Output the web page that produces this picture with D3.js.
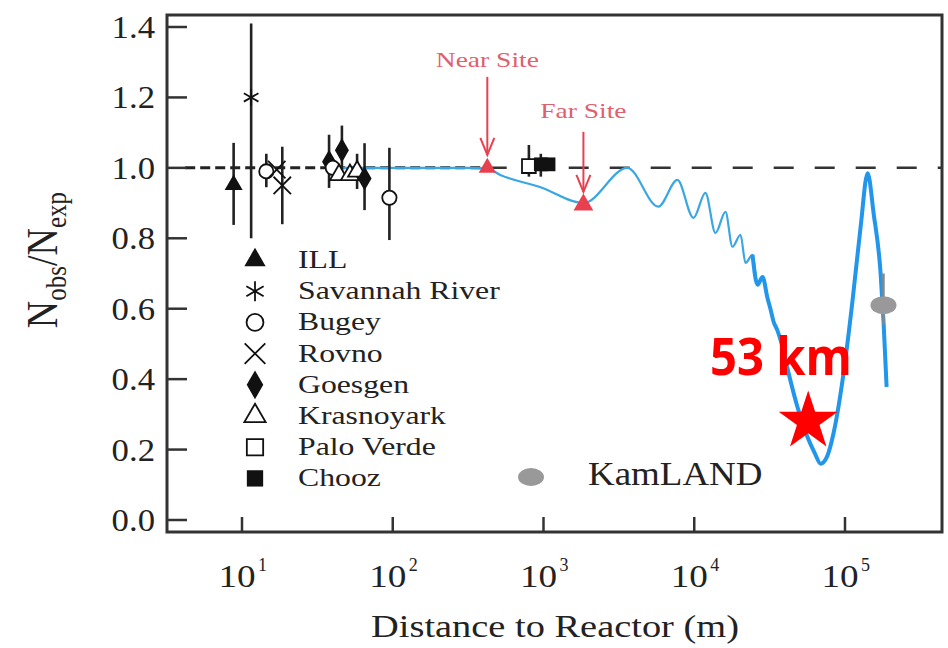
<!DOCTYPE html>
<html>
<head>
<meta charset="utf-8">
<script src="https://cdn.jsdelivr.net/npm/d3@7"></script>
<style>
  body { margin: 0; background: #fff; }
  svg { display: block; }
  text { font-family: "Liberation Serif", "Times New Roman", serif; }
</style>
</head>
<body>
<div id="wrapper"></div>
<script>
// 1. Data

const legendNames = ['ILL', 'Savannah River', 'Bugey', 'Rovno', 'Goesgen', 'Krasnoyark', 'Palo Verde', 'Chooz'];
const legendSymbols = ['triangle', 'asterisk', 'circle', 'cross', 'diamond', 'triangleOpen', 'square', 'squareFilled'];

// reactor experiments: distance (m), Nobs/Nexp, error bar low / high
const pointExp = ['ILL', 'Savannah River', 'Bugey', 'Rovno', 'Rovno', 'Goesgen', 'Bugey', 'Krasnoyark',
  'Goesgen', 'Krasnoyark', 'Krasnoyark', 'Goesgen', 'Bugey', 'Palo Verde', 'Chooz', 'Chooz'];
const pointDist = [8.8, 11.5, 14.5, 17, 18.5, 37.8, 40, 44, 46, 52, 58, 65, 95, 800, 960, 1080];
const pointRatio = [0.952, 1.2, 0.99, 0.995, 0.95, 1.017, 1.0, 0.98, 1.05, 0.98, 0.99, 0.97, 0.915, 1.005, 1.01, 1.01];
const pointLow = [0.838, 0.8, 0.945, 0.995, 0.84, 0.943, 0.99, 0.98, 0.975, 0.98, 0.94, 0.88, 0.795, 0.975, 0.975, 1.0];
const pointHigh = [1.071, 1.41, 1.04, 0.995, 1.06, 1.094, 1.01, 0.98, 1.12, 0.98, 1.04, 1.07, 1.057, 1.065, 1.04, 1.02];

// oscillation curve, traced point by point
const curveDist = [45, 327, 424, 517, 955, 1840, 3600, 5780, 7730, 9880, 11860, 13830, 16110, 17930,
  20270, 21880, 24340, 26300, 28380, 30620, 32000, 33590, 35500, 38550, 42200, 48420, 56460, 63000,
  68870, 76000, 84000, 97900, 112300, 126900, 141300, 154900, 172300, 180300, 188800];
const curveRatio = [1.0, 1.0, 0.998, 0.98, 0.945, 0.9, 1.0, 0.89, 0.966, 0.858, 0.929, 0.815, 0.875, 0.776,
  0.81, 0.73, 0.753, 0.668, 0.69, 0.63, 0.6, 0.563, 0.54, 0.49, 0.418, 0.32, 0.235, 0.19,
  0.16, 0.18, 0.247, 0.418, 0.625, 0.832, 0.985, 0.87, 0.7, 0.56, 0.378];

const siteNames = ['Near Site', 'Far Site'];
const siteDist = [424, 1840];
const siteRatio = [1.0, 0.895];

const kamlandDist = [180000];
const kamlandRatio = [0.61];
const kamlandLow = [0.555];
const kamlandHigh = [0.7];

const starDist = 57000;
const starRatio = 0.28;

const xTicks = [10, 100, 1000, 10000, 100000];
const xTickExp = ['1', '2', '3', '4', '5'];
const yTicks = [0, 0.2, 0.4, 0.6, 0.8, 1.0, 1.2, 1.4];

// 2. Dimensions

const dimensions = {
  width: 948,
  height: 648,
  margin: { top: 15, right: 6, bottom: 116, left: 167 },
};
dimensions.boundedWidth = dimensions.width - dimensions.margin.left - dimensions.margin.right;
dimensions.boundedHeight = dimensions.height - dimensions.margin.top - dimensions.margin.bottom;

// 3. Canvas

const wrapper = d3.select('#wrapper')
  .append('svg')
  .attr('width', dimensions.width)
  .attr('height', dimensions.height);

const bounds = wrapper.append('g')
  .attr('transform', `translate(${dimensions.margin.left},${dimensions.margin.top})`);

// 4. Scales

const xScale = d3.scaleLog().domain([10, 100000]).range([75, 678]);
const yScale = d3.scaleLinear().domain([0, 1.4]).range([505, 12]);

// text in the figure is stretched sideways
function stretch(sel, k) {
  sel.each(function () {
    const len = this.getComputedTextLength();
    d3.select(this).attr('textLength', len * k).attr('lengthAdjust', 'spacingAndGlyphs');
  });
}

function drawMarker(g, type, x, y, scale) {
  const s = scale || 1;
  const ink = '#111';
  let sym, fill = ink, stroke = 'none', size = 150 * s;
  if (type === 'triangle') { sym = d3.symbolTriangle; size = 140 * s; }
  if (type === 'triangleOpen') { sym = d3.symbolTriangle; size = 140 * s; fill = '#fff'; stroke = ink; }
  if (type === 'circle') { sym = d3.symbolCircle; size = 160 * s; fill = '#fff'; stroke = ink; }
  if (type === 'square') { sym = d3.symbolSquare; size = 190 * s; fill = '#fff'; stroke = ink; }
  if (type === 'squareFilled') { sym = d3.symbolSquare; size = 190 * s; }
  if (type === 'diamond') { sym = d3.symbolDiamond; size = 170 * s; }
  if (type === 'cross') { sym = d3.symbolTimes; size = 200 * s; fill = 'none'; stroke = ink; }
  if (type === 'asterisk') { sym = d3.symbolAsterisk; size = 200 * s; fill = 'none'; stroke = ink; }
  g.append('path')
    .attr('d', d3.symbol(sym, size)())
    .attr('transform', `translate(${x},${y})`)
    .attr('fill', fill)
    .attr('stroke', stroke)
    .attr('stroke-width', 1.8);
}

// 5. Draw data

// reference line at 1.0
bounds.append('line')
  .attr('x1', xScale(4.2)).attr('x2', xScale(420))
  .attr('y1', yScale(1)).attr('y2', yScale(1))
  .attr('stroke', '#222').attr('stroke-width', 3)
  .attr('stroke-dasharray', '10,5');
bounds.append('line')
  .attr('x1', xScale(420)).attr('x2', dimensions.boundedWidth)
  .attr('y1', yScale(1)).attr('y2', yScale(1))
  .attr('stroke', '#333').attr('stroke-width', 2.5)
  .attr('stroke-dasharray', '20,21');

const curveData = curveDist.map((d, i) => [d, curveRatio[i]]);
const lineGen = d3.line()
  .x((d) => xScale(d[0]))
  .y((d) => yScale(d[1]))
  .curve(d3.curveMonotoneX);

bounds.append('path')
  .attr('d', lineGen(curveData))
  .attr('fill', 'none')
  .attr('stroke', '#3aa6e2')
  .attr('stroke-width', 2.2);

bounds.append('path')
  .attr('d', lineGen(curveData.filter((d) => d[0] >= 24000)))
  .attr('fill', 'none')
  .attr('stroke', '#2196ea')
  .attr('stroke-width', 4);

// error bars, then markers
pointExp.forEach((exp, i) => {
  const x = xScale(pointDist[i]);
  if (pointHigh[i] > pointLow[i]) {
    bounds.append('line')
      .attr('x1', x).attr('x2', x)
      .attr('y1', yScale(pointLow[i])).attr('y2', yScale(pointHigh[i]))
      .attr('stroke', '#222').attr('stroke-width', 2.6);
  }
});
pointExp.forEach((exp, i) => {
  const type = legendSymbols[legendNames.indexOf(exp)];
  drawMarker(bounds, type, xScale(pointDist[i]), yScale(pointRatio[i]), 1);
});

// KamLAND point
kamlandDist.forEach((d, i) => {
  const x = xScale(d);
  bounds.append('line')
    .attr('x1', x).attr('x2', x)
    .attr('y1', yScale(kamlandLow[i])).attr('y2', yScale(kamlandHigh[i]))
    .attr('stroke', '#888').attr('stroke-width', 2.5);
  bounds.append('ellipse')
    .attr('cx', x).attr('cy', yScale(kamlandRatio[i]))
    .attr('rx', 13).attr('ry', 9)
    .attr('fill', '#999');
});

// near and far sites
const siteRed = '#e8404f';
const arrowLen = [78, 60];
const labelGap = [10, 14];
siteNames.forEach((name, i) => {
  const x = xScale(siteDist[i]);
  const y = yScale(siteRatio[i]);
  const tip = y - 13;
  const top = tip - arrowLen[i];
  bounds.append('line')
    .attr('x1', x).attr('x2', x).attr('y1', top).attr('y2', tip)
    .attr('stroke', siteRed).attr('stroke-width', 2);
  bounds.append('path')
    .attr('d', `M${x - 7},${tip - 17}L${x},${tip}L${x + 7},${tip - 17}`)
    .attr('fill', 'none').attr('stroke', siteRed).attr('stroke-width', 2);
  bounds.append('path')
    .attr('d', d3.symbol(d3.symbolTriangle, i === 0 ? 130 : 170)())
    .attr('transform', `translate(${x},${y})`)
    .attr('fill', siteRed);
  bounds.append('text')
    .attr('x', x).attr('y', top - labelGap[i])
    .attr('text-anchor', 'middle')
    .attr('font-size', 22)
    .attr('fill', '#e0606c')
    .text(name)
    .call(stretch, 1.25);
});

// 53 km marker
bounds.append('path')
  .attr('d', d3.symbol(d3.symbolStar, 1080)())
  .attr('transform', `translate(${xScale(starDist)},${yScale(starRatio)})`)
  .attr('fill', '#ff0000');

bounds.append('text')
  .attr('x', 543).attr('y', 360)
  .style('font-family', '"Open Sans", "Liberation Sans", sans-serif')
  .attr('font-weight', 700)
  .attr('font-size', 52)
  .attr('fill', '#ff0000')
  .attr('textLength', 142)
  .attr('lengthAdjust', 'spacingAndGlyphs')
  .text('53 km');

// 6. Peripherals

bounds.append('rect')
  .attr('width', dimensions.boundedWidth)
  .attr('height', dimensions.boundedHeight)
  .attr('fill', 'none')
  .attr('stroke', '#333')
  .attr('stroke-width', 3);

// y ticks point inward
const yAxis = bounds.append('g');
yTicks.forEach((t) => {
  const y = yScale(t);
  yAxis.append('line')
    .attr('x1', 0).attr('x2', 20).attr('y1', y).attr('y2', y)
    .attr('stroke', '#333').attr('stroke-width', 2.5);
  yAxis.append('text')
    .attr('x', -12).attr('y', y + 11)
    .attr('text-anchor', 'end')
    .attr('font-size', 31)
    .attr('fill', '#222')
    .text(d3.format('.1f')(t))
    .call(stretch, 1.12);
});

const xAxis = bounds.append('g');
xTicks.forEach((t, i) => {
  const x = xScale(t);
  xAxis.append('line')
    .attr('x1', x).attr('x2', x)
    .attr('y1', dimensions.boundedHeight).attr('y2', dimensions.boundedHeight - 15)
    .attr('stroke', '#333').attr('stroke-width', 2.5);
  xAxis.append('text')
    .attr('x', x - 5).attr('y', 572)
    .attr('text-anchor', 'middle')
    .attr('font-size', 31)
    .attr('fill', '#222')
    .text('10')
    .call(stretch, 1.2);
  xAxis.append('text')
    .attr('x', x + 16).attr('y', 556)
    .attr('font-size', 18)
    .attr('fill', '#222')
    .text(xTickExp[i]);
});

bounds.append('text')
  .attr('x', 388).attr('y', 622)
  .attr('text-anchor', 'middle')
  .attr('font-size', 32)
  .attr('fill', '#222')
  .text('Distance to Reactor (m)')
  .call(stretch, 1.2);

const yLabel = bounds.append('text')
  .attr('transform', 'translate(-110,245) scale(1.15,1) rotate(-90)')
  .attr('text-anchor', 'middle')
  .attr('font-size', 38)
  .attr('fill', '#222');
yLabel.append('tspan').text('N');
yLabel.append('tspan').attr('font-size', 25).attr('dy', 8).text('obs');
yLabel.append('tspan').attr('dy', -8).text('/N');
yLabel.append('tspan').attr('font-size', 25).attr('dy', 8).text('exp');

// legend
const legend = bounds.append('g');
legendNames.forEach((name, i) => {
  const y = 245 + i * 31.2;
  drawMarker(legend, legendSymbols[i], 88, y, 1.4);
  legend.append('text')
    .attr('x', 131).attr('y', y + 8)
    .attr('font-size', 26)
    .attr('fill', '#222')
    .text(name)
    .call(stretch, 1.22);
});

legend.append('ellipse')
  .attr('cx', 364).attr('cy', 462)
  .attr('rx', 13).attr('ry', 9)
  .attr('fill', '#999');
legend.append('text')
  .attr('x', 421).attr('y', 470)
  .attr('font-size', 33)
  .attr('fill', '#222')
  .text('KamLAND')
  .call(stretch, 1.12);
</script>
</body>
</html>
